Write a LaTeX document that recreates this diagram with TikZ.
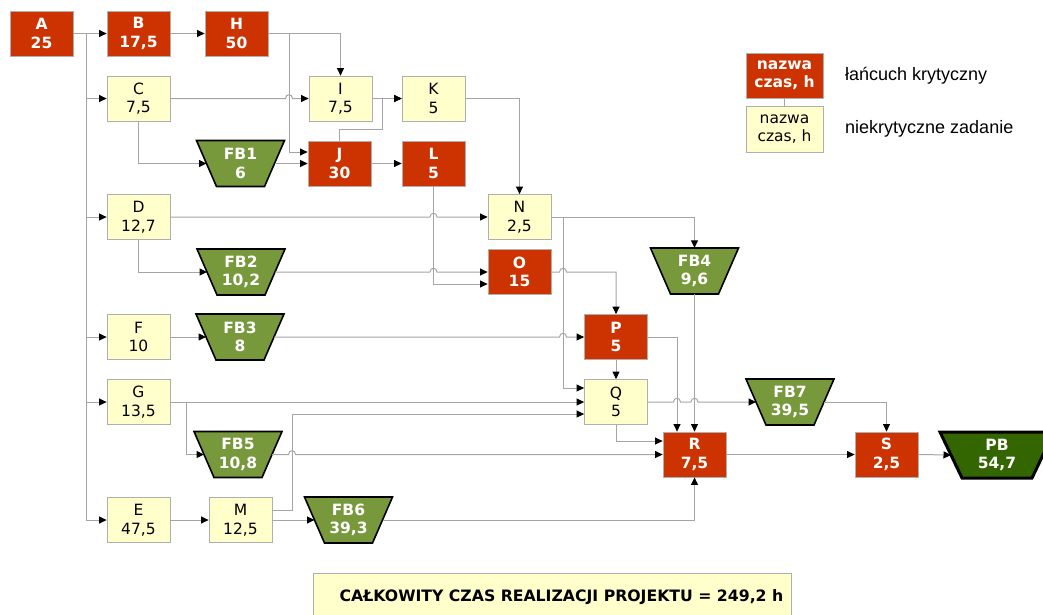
\documentclass[tikz,border=0pt]{standalone}
\usepackage{fontspec}
\setmainfont{DejaVu Sans}
\newfontfamily\legfont{Liberation Sans}
\usetikzlibrary{arrows.meta,calc}
\definecolor{critred}{RGB}{204,51,0}
\definecolor{ncyellow}{RGB}{255,255,204}
\definecolor{fbgreen}{RGB}{119,153,60}
\definecolor{pbgreen}{RGB}{51,102,0}
\definecolor{lin}{RGB}{165,165,165}
\definecolor{bord}{RGB}{175,175,175}
\newcommand\hopx[2]{-- (#1-3.5,#2) .. controls (#1-3.5,#2-5) and (#1+3.5,#2-5) .. (#1+3.5,#2)}
\newcommand\fbnode[4]{%
  \filldraw[fbshape] (#2-44,#3-23) -- (#2+44,#3-23) -- (#2+24,#3+23) -- (#2-24,#3+23) -- cycle;
  \node[fbtext] (#1) at (#2,#3) {#4};
  \coordinate (#1w) at (#2-34,#3);
  \coordinate (#1e) at (#2+34,#3);
}
\begin{document}
\begin{tikzpicture}[x=1pt,y=-1pt,
  task/.style={rectangle, minimum width=63pt, minimum height=45pt, inner sep=0pt,
    draw=bord, line width=0.8pt, align=center, fill=ncyellow,
    font=\fontsize{15.5}{18.5}\selectfont},
  critbox/.style={task, fill=critred, text=white,
    font=\fontsize{15.5}{18.5}\selectfont\bfseries},
  fbshape/.style={fill=fbgreen, draw=black, line width=1.6pt, line join=miter},
  fbtext/.style={rectangle, minimum width=88pt, minimum height=46pt, inner sep=0pt,
    align=center, text=white, font=\fontsize{15.5}{18.5}\selectfont\bfseries},
  conn/.style={draw=lin, line width=1pt, -{Triangle[length=7.5pt,width=7pt,color=black]}},
  plain/.style={draw=lin, line width=1pt},
  legtext/.style={anchor=west, inner sep=0pt, font=\legfont\fontsize{18}{20}\selectfont}
]
\useasboundingbox (0,0) rectangle (1043,614);
\clip (0,0) rectangle (1043,614);

% critical tasks
\node[critbox] (A) at (41.5,33.5) {A\\25};
\node[critbox] (B) at (138.5,33.5) {B\\17,5};
\node[critbox] (H) at (236.5,33.5) {H\\50};
\node[critbox] (J) at (339.5,163.5) {J\\30};
\node[critbox] (L) at (433.5,163.5) {L\\5};
\node[critbox] (O) at (519.5,272) {O\\15};
\node[critbox] (P) at (616,337) {P\\5};
\node[critbox] (R) at (694.5,454.5) {R\\7,5};
\node[critbox] (S) at (886.5,454.5) {S\\2,5};

% non-critical tasks
\node[task] (C) at (138.5,98.5) {C\\7,5};
\node[task] (I) at (340.5,98.5) {I\\7,5};
\node[task] (K) at (433.5,98.5) {K\\5};
\node[task] (D) at (138.5,217) {D\\12,7};
\node[task] (N) at (519.5,217) {N\\2,5};
\node[task] (F) at (138.5,337) {F\\10};
\node[task] (G) at (138.5,402) {G\\13,5};
\node[task] (Q) at (616,402) {Q\\5};
\node[task] (E) at (138.5,520) {E\\47,5};
\node[task] (M) at (240.5,520) {M\\12,5};

% feeding buffers
\fbnode{FB1}{240.5}{163.5}{FB1\\6}
\fbnode{FB2}{241}{272}{FB2\\10,2}
\fbnode{FB3}{240}{337}{FB3\\8}
\fbnode{FB4}{694.5}{271}{FB4\\9,6}
\fbnode{FB5}{238}{454.5}{FB5\\10,8}
\fbnode{FB6}{348.5}{520}{FB6\\39,3}
\fbnode{FB7}{790}{402}{FB7\\39,5}

% project buffer
\filldraw[fill=pbgreen, draw=black, line width=3pt] (940,432) -- (1054,432) -- (1032,478) -- (962,478) -- cycle;
\node[fbtext, minimum width=114pt] (PB) at (997,455) {PB\\54,7};
\coordinate (PBw) at (951,455);

% branch points
\coordinate (t) at (86,33.5);
\coordinate (hj) at (289,33.5);
\coordinate (nq) at (563,217);
\coordinate (gf) at (186,402);

% connectors
\draw[conn] (A.east) -- (B.west);
\draw[conn] (t) |- (C.west);
\draw[conn] (t) |- (D.west);
\draw[conn] (t) |- (F.west);
\draw[conn] (t) |- (G.west);
\draw[conn] (t) |- (E.west);
\draw[conn] (B.east) -- (H.west);
\draw[conn] (H.east) -| (I.north);
\draw[conn] (hj) |- ([yshift=11.5pt]J.west);
\draw[conn] (C.east) \hopx{289}{98.5} -- (I.west);
\draw[conn] (C.south) |- (FB1w);
\draw[conn] (FB1e) -- (J.west);
\draw[conn] (I.east) -- (K.west);
\draw[conn] (J.north) |- (382,129) |- (K.west);
\draw[conn] (J.east) -- (L.west);
\draw[conn] (K.east) -| (N.north);
\draw[conn] (L.south) |- ([yshift=-12pt]O.west);
\draw[conn] (D.east) \hopx{433.5}{217} -- (N.west);
\draw[conn] (D.south) |- (FB2w);
\draw[conn] (FB2e) \hopx{433.5}{272} -- (O.west);
\draw[conn] (N.east) -| (FB4.north);
\draw[conn] (nq) |- ([yshift=14pt]Q.west);
\draw[conn] (O.east) \hopx{563}{272} -| (P.north);
\draw[conn] (F.east) -- (FB3w);
\draw[conn] (FB3e) \hopx{563}{337} -- (P.west);
\draw[conn] (P.south) -- (Q.north);
\draw[conn] (P.east) -| ([xshift=-17.5pt]R.north);
\draw[conn] (FB4.south) -- (R.north);
\draw[conn] (Q.east) \hopx{677}{402} \hopx{694.5}{402} -- (FB7w);
\draw[conn] (Q.south) |- ([yshift=13.5pt]R.west);
\draw[conn] (G.east) -- (Q.west);
\draw[conn] (gf) |- (FB5w);
\draw[conn] (FB5e) \hopx{292}{454.5} -- (R.west);
\draw[conn] ([yshift=10pt]M.east) -- (292,510) |- ([yshift=-12pt]Q.west);
\draw[conn] (E.east) -- (M.west);
\draw[conn] (M.east) -- (FB6w);
\draw[conn] (FB6e) -| (R.south);
\draw[conn] (R.east) -- (S.west);
\draw[conn] (FB7e) -| (S.north);
\draw[conn] (S.east) -- (PBw);

% legend
\node[critbox, minimum width=77pt] (lc) at (784.5,75.5) {nazwa\\czas, h};
\node[task, minimum width=77pt, minimum height=46pt] (ln) at (784.5,129) {nazwa\\czas, h};
\draw[plain] (lc.south) -- (ln.north);
\node[legtext] (lt1) at (845,75.5) {łańcuch krytyczny};
\node[legtext] (lt2) at (845,129) {niekrytyczne zadanie};

% total
\node[rectangle, draw=bord, line width=1pt, fill=ncyellow, minimum width=478pt, minimum height=50pt, inner sep=0pt, anchor=north west] (totbox) at (313,572.5) {};
\node[font=\fontsize{15.7}{18}\selectfont\bfseries, inner sep=0pt] (tot) at (561.5,597) {CAŁKOWITY CZAS REALIZACJI PROJEKTU = 249,2 h};
\end{tikzpicture}
\end{document}
